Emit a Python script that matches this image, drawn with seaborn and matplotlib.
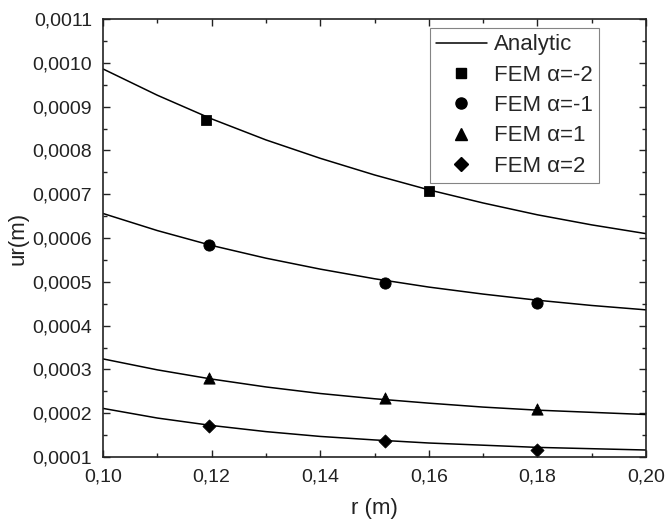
import matplotlib
matplotlib.use("Agg")
import matplotlib.pyplot as plt
import seaborn as sns
from matplotlib.lines import Line2D
from matplotlib.ticker import FuncFormatter, MultipleLocator

# analytic curves at r = 0.10 ... 0.20
r_curve = [0.10, 0.11, 0.12, 0.13, 0.14, 0.15, 0.16, 0.17, 0.18, 0.19, 0.20]
ana_m2 = [0.000986, 0.000926, 0.000872, 0.000824, 0.000782, 0.000744,
          0.000710, 0.000680, 0.000653, 0.000630, 0.000610]
ana_m1 = [0.000656, 0.000617, 0.000583, 0.000554, 0.000529, 0.000507,
          0.000488, 0.000472, 0.000458, 0.000446, 0.000436]
ana_p1 = [0.000324, 0.000299, 0.000278, 0.000260, 0.000245, 0.000233,
          0.000223, 0.000214, 0.000207, 0.000202, 0.000197]
ana_p2 = [0.000211, 0.000189, 0.000172, 0.000158, 0.000147, 0.000139,
          0.000132, 0.000127, 0.000122, 0.000119, 0.000116]

# FEM points
fem_r_m2 = [0.119, 0.160]
fem_m2 = [0.000870, 0.000708]
fem_r = [0.1195, 0.152, 0.180]
fem_m1 = [0.000584, 0.000497, 0.000452]
fem_p1 = [0.000280, 0.000234, 0.000209]
fem_p2 = [0.000171, 0.000137, 0.000116]

sns.set_style("ticks")
plt.rcParams['font.family'] = ['Liberation Sans', 'DejaVu Sans']
plt.rcParams['xtick.direction'] = 'in'
plt.rcParams['ytick.direction'] = 'in'

fig = plt.figure(figsize=(6.66, 5.21), dpi=100)
ax = fig.add_axes([0.1547, 0.1228, 0.8153, 0.8407])

for vals in [ana_m2, ana_m1, ana_p1, ana_p2]:
    sns.lineplot(x=r_curve, y=vals, color='black', linewidth=1.1, ax=ax)

sns.scatterplot(x=fem_r_m2, y=fem_m2, marker='s', s=50, color='black', edgecolor='black', ax=ax)
sns.scatterplot(x=fem_r, y=fem_m1, marker='o', s=65, color='black', edgecolor='black', ax=ax)
sns.scatterplot(x=fem_r, y=fem_p1, marker='^', s=65, color='black', edgecolor='black', ax=ax)
sns.scatterplot(x=fem_r, y=fem_p2, marker='D', s=45, color='black', edgecolor='black', ax=ax)

ax.set_xlim(0.10, 0.20)
ax.set_ylim(0.0001, 0.0011)
ax.xaxis.set_major_locator(MultipleLocator(0.02))
ax.xaxis.set_minor_locator(MultipleLocator(0.01))
ax.yaxis.set_major_locator(MultipleLocator(0.0001))
ax.yaxis.set_minor_locator(MultipleLocator(0.00005))
ax.xaxis.set_major_formatter(FuncFormatter(lambda v, p: f"{v:.2f}".replace('.', ',')))
ax.yaxis.set_major_formatter(FuncFormatter(lambda v, p: f"{v:.4f}".replace('.', ',')))
ax.tick_params(which='both', top=True, right=True, width=1.0, colors='#222222',
               labelsize=14, labelcolor='#222222')
ax.tick_params(which='major', length=5, pad=8)
ax.tick_params(which='minor', length=3)
for sp in ax.spines.values():
    sp.set_linewidth(1.2)
    sp.set_color('#222222')

ax.set_xlabel("r (m)", fontsize=16, color='#222222', labelpad=9)
ax.set_ylabel("ur(m)", fontsize=16, color='#222222', labelpad=3)

handles = [
    Line2D([], [], color='black', linewidth=1.1),
    Line2D([], [], color='black', marker='s', linestyle='none', markersize=7),
    Line2D([], [], color='black', marker='o', linestyle='none', markersize=8),
    Line2D([], [], color='black', marker='^', linestyle='none', markersize=8),
    Line2D([], [], color='black', marker='D', linestyle='none', markersize=7),
]
labels = ["Analytic", "FEM α=-2", "FEM α=-1", "FEM α=1", "FEM α=2"]
leg = ax.legend(handles, labels, loc='upper right', bbox_to_anchor=(0.913, 0.979),
                fontsize=16, frameon=True, fancybox=False, handlelength=2.3,
                handletextpad=0.3, borderpad=0.28, labelspacing=0.42, borderaxespad=0)
leg.get_frame().set_edgecolor('#666666')
leg.get_frame().set_linewidth(0.8)

fig.savefig("out.png", dpi=100)
